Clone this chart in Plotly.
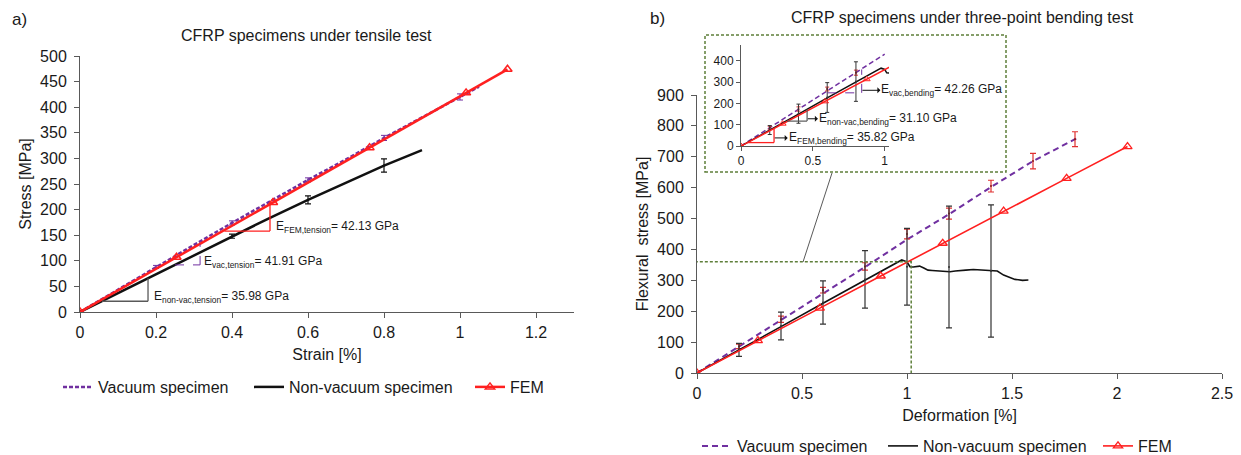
import plotly.graph_objects as go

# ---------------- data: (a) tensile test ----------------
ten_vac_x = [0, 0.1, 0.2, 0.3, 0.4, 0.5, 0.6, 0.7, 0.8, 0.9, 1.0, 1.05]
ten_vac_y = [0, 44, 88, 131, 174, 216, 258, 298, 340, 380, 420, 440]
ten_vac_err_x = [0.2, 0.4, 0.6, 0.8, 1.0]
ten_vac_err_y = [88, 174, 258, 340, 420]
ten_vac_err = [3, 4, 4, 5, 6]

ten_nonvac_x = [0, 0.1, 0.2, 0.3, 0.4, 0.5, 0.6, 0.7, 0.8, 0.9]
ten_nonvac_y = [0, 37, 74, 111, 148, 184, 219, 253, 286, 316]
ten_nonvac_err_x = [0.4, 0.6, 0.8]
ten_nonvac_err_y = [148, 219, 286]
ten_nonvac_err = [4, 8, 13]

ten_fem_x = [0, 0.254, 0.508, 0.762, 1.016, 1.125]
ten_fem_y = [0, 107, 214, 321, 428, 474]

# ---------------- data: (b) three-point bending ----------------
bend_vac_x = [0, 0.2, 0.4, 0.6, 0.8, 1.0, 1.2, 1.4, 1.6, 1.8, 1.82]
bend_vac_y = [0, 86, 172, 258, 343, 432, 514, 602, 686, 757, 764]
bend_vac_err_x = [0.2, 0.4, 0.6, 0.8, 1.0, 1.2, 1.4, 1.6, 1.8]
bend_vac_err_y = [86, 174, 268, 345, 450, 516, 605, 686, 757]
bend_vac_err = [7, 10, 9, 12, 16, 18, 19, 25, 24]

bend_nonvac_x = [0, 0.2, 0.4, 0.6, 0.8, 0.975, 1.0, 1.014, 1.03, 1.06, 1.08, 1.1,
                 1.12, 1.15, 1.18, 1.205, 1.23, 1.26, 1.28, 1.316, 1.34, 1.36,
                 1.38, 1.41, 1.43, 1.46, 1.48, 1.5, 1.514, 1.53, 1.55, 1.578]
bend_nonvac_y = [0, 74, 150, 226, 302, 366, 360, 344, 343, 346, 340, 333,
                 332, 330, 330, 328, 330, 333, 333, 335, 334, 335,
                 334, 333, 330, 317, 312, 307, 303, 302, 300, 301]
bend_nonvac_err_x = [0.2, 0.4, 0.6, 0.8, 1.0, 1.2, 1.4]
bend_nonvac_err_y = [75, 152, 228, 303, 344, 343, 330]
bend_nonvac_err = [21, 45, 70, 93, 124, 197, 214]

bend_fem_x = [0, 0.29, 0.585, 0.875, 1.17, 1.46, 1.76, 2.05]
bend_fem_y = [0, 105, 210, 314, 420, 524, 630, 733]

# ---------------- styling ----------------
W, H = 1241, 455
PURPLE = "#7030A0"
RED = "#FF2020"
BLACK = "#111111"
GREY = "#595959"
GREEN = "#5E7F3A"
TXT = "#1a1a1a"
FONT = "Liberation Sans, Arial, sans-serif"


def px(xp):
    return xp / W


def py(yp):
    return 1 - yp / H


fig = go.Figure()

# ----- (a) traces -----
fig.add_trace(go.Scatter(x=ten_vac_x, y=ten_vac_y, mode="lines", name="Vacuum specimen",
                         line=dict(color=PURPLE, width=2.5, dash="4px,2px"),
                         xaxis="x", yaxis="y", legend="legend"))
fig.add_trace(go.Scatter(x=ten_vac_err_x, y=ten_vac_err_y, mode="markers",
                         marker=dict(size=2, color=PURPLE), showlegend=False,
                         error_y=dict(type="data", array=ten_vac_err, color=PURPLE, thickness=1, width=3),
                         xaxis="x", yaxis="y"))
fig.add_trace(go.Scatter(x=ten_nonvac_x, y=ten_nonvac_y, mode="lines", name="Non-vacuum specimen",
                         line=dict(color=BLACK, width=2.5),
                         xaxis="x", yaxis="y", legend="legend2"))
fig.add_trace(go.Scatter(x=ten_nonvac_err_x, y=ten_nonvac_err_y, mode="markers",
                         marker=dict(size=2, color=BLACK), showlegend=False,
                         error_y=dict(type="data", array=ten_nonvac_err, color=BLACK, thickness=1.2, width=3),
                         xaxis="x", yaxis="y"))
fig.add_trace(go.Scatter(x=ten_fem_x, y=ten_fem_y, mode="lines+markers", name="FEM",
                         line=dict(color=RED, width=2.5),
                         marker=dict(symbol="triangle-up-open", size=8, color=RED, line=dict(width=1.5)),
                         xaxis="x", yaxis="y", legend="legend3"))

# ----- (b) traces (main) -----
fig.add_trace(go.Scatter(x=bend_vac_x, y=bend_vac_y, mode="lines", name="Vacuum specimen",
                         line=dict(color=PURPLE, width=2, dash="6px,4px"),
                         xaxis="x2", yaxis="y2", legend="legend4"))
fig.add_trace(go.Scatter(x=bend_vac_err_x, y=bend_vac_err_y, mode="markers",
                         marker=dict(size=2, color="#8a1a1a"), showlegend=False,
                         error_y=dict(type="data", array=bend_vac_err, color="#E03030", thickness=1.2, width=3),
                         xaxis="x2", yaxis="y2"))
fig.add_trace(go.Scatter(x=bend_nonvac_x, y=bend_nonvac_y, mode="lines", name="Non-vacuum specimen",
                         line=dict(color=BLACK, width=1.6),
                         xaxis="x2", yaxis="y2", legend="legend5"))
fig.add_trace(go.Scatter(x=bend_nonvac_err_x, y=bend_nonvac_err_y, mode="markers",
                         marker=dict(size=2, color="#333333"), showlegend=False,
                         error_y=dict(type="data", array=bend_nonvac_err, color="#333333", thickness=1.2, width=3),
                         xaxis="x2", yaxis="y2"))
fig.add_trace(go.Scatter(x=bend_fem_x, y=bend_fem_y, mode="lines+markers", name="FEM",
                         line=dict(color=RED, width=1.6),
                         marker=dict(symbol="triangle-up-open", size=8, color=RED, line=dict(width=1.3)),
                         xaxis="x2", yaxis="y2", legend="legend6"))

# ----- (b) inset traces -----
inset_vac_x = [v for v in bend_vac_x if v <= 1.0]
inset_vac_y = bend_vac_y[:len(inset_vac_x)]
fig.add_trace(go.Scatter(x=inset_vac_x, y=inset_vac_y, mode="lines", showlegend=False,
                         line=dict(color=PURPLE, width=1.5, dash="5px,3px"), xaxis="x3", yaxis="y3"))
in_err_n = len([v for v in bend_vac_err_x if v <= 0.8])
fig.add_trace(go.Scatter(x=bend_vac_err_x[:in_err_n], y=bend_vac_err_y[:in_err_n], mode="markers",
                         marker=dict(size=2, color="#8a1a1a"), showlegend=False,
                         error_y=dict(type="data", array=bend_vac_err[:in_err_n], color="#E03030", thickness=1, width=2),
                         xaxis="x3", yaxis="y3"))
fig.add_trace(go.Scatter(x=bend_nonvac_x, y=bend_nonvac_y, mode="lines", showlegend=False,
                         line=dict(color=BLACK, width=1.5), xaxis="x3", yaxis="y3"))
in_nerr_n = len([v for v in bend_nonvac_err_x if v <= 0.8])
fig.add_trace(go.Scatter(x=bend_nonvac_err_x[:in_nerr_n], y=bend_nonvac_err_y[:in_nerr_n], mode="markers",
                         marker=dict(size=2, color="#333333"), showlegend=False,
                         error_y=dict(type="data", array=bend_nonvac_err[:in_nerr_n], color="#333333", thickness=1, width=2),
                         xaxis="x3", yaxis="y3"))
fig.add_trace(go.Scatter(x=bend_fem_x, y=bend_fem_y, mode="lines+markers", showlegend=False,
                         line=dict(color=RED, width=1.5),
                         marker=dict(symbol="triangle-up-open", size=6, color=RED, line=dict(width=1)),
                         xaxis="x3", yaxis="y3"))


def axis_style(**kw):
    d = dict(showline=True, linecolor=GREY, linewidth=1, ticks="outside", ticklen=5,
             tickcolor=GREY, tickwidth=1, showgrid=False, zeroline=False, automargin=False,
             tickfont=dict(size=16, color=TXT, family=FONT), title_font=dict(size=16, color=TXT, family=FONT))
    d.update(kw)
    return d


def leg(xp, yp):
    return dict(orientation="h", x=px(xp), y=py(yp), xanchor="left", yanchor="middle",
                font=dict(size=16, color=TXT, family=FONT), bgcolor="rgba(0,0,0,0)", itemwidth=30)


fig.update_layout(
    width=W, height=H, margin=dict(l=0, r=0, t=0, b=0, autoexpand=False),
    paper_bgcolor="white", plot_bgcolor="white",
    font=dict(family=FONT, color=TXT),
    xaxis=axis_style(domain=[px(80), px(574)], range=[0, 1.3], tick0=0, dtick=0.2, anchor="y",
                     ticklabelstandoff=1, title=dict(text="Strain [%]", standoff=8)),
    yaxis=axis_style(domain=[py(312), py(56)], range=[0, 500], tick0=0, dtick=50, anchor="x",
                     ticklabelstandoff=4, title=dict(text="Stress [MPa]", standoff=4)),
    xaxis2=axis_style(domain=[px(697), px(1222)], range=[0, 2.5], tick0=0, dtick=0.5, anchor="y2",
                      ticklabelstandoff=1, title=dict(text="Deformation [%]", standoff=8)),
    yaxis2=axis_style(domain=[py(373), py(95)], range=[0, 900], tick0=0, dtick=100, anchor="x2",
                      ticklabelstandoff=4, title=dict(text="Flexural\u00a0 stress [MPa]", standoff=4)),
    xaxis3=axis_style(domain=[px(741), px(889)], range=[0, 1.03], tickvals=[0, 0.5, 1], anchor="y3",
                      ticklen=4, tickfont=dict(size=12, color=TXT, family=FONT)),
    yaxis3=axis_style(domain=[py(146), py(45)], range=[0, 475], tickvals=[0, 100, 200, 300, 400], anchor="x3",
                      ticklen=4, tickfont=dict(size=12, color=TXT, family=FONT)),
    legend=leg(58, 387),
    legend2=leg(249, 387),
    legend3=leg(470, 387),
    legend4=leg(697, 446),
    legend5=leg(883, 446),
    legend6=leg(1098, 446),
)

ann = []
# panel labels and titles
ann.append(dict(text="a)", x=px(10), y=py(20), xref="paper", yref="paper", xanchor="left", yanchor="middle",
                showarrow=False, font=dict(size=17, color=TXT)))
ann.append(dict(text="CFRP specimens under tensile test", x=px(306), y=py(36), xref="paper", yref="paper",
                xanchor="center", yanchor="middle", showarrow=False, font=dict(size=16, color=TXT)))
ann.append(dict(text="b)", x=px(648), y=py(19), xref="paper", yref="paper", xanchor="left", yanchor="middle",
                showarrow=False, font=dict(size=17, color=TXT)))
ann.append(dict(text="CFRP specimens under three-point bending test", x=px(962), y=py(18), xref="paper",
                yref="paper", xanchor="center", yanchor="middle", showarrow=False, font=dict(size=16, color=TXT)))

# (a) slope labels
ann.append(dict(text="E<sub>non-vac,tension</sub>= 35.98 GPa", x=0.19, y=29, xref="x", yref="y",
                xanchor="left", yanchor="middle", showarrow=False, font=dict(size=12, color=TXT)))
ann.append(dict(text="E<sub>vac,tension</sub>= 41.91 GPa", x=0.322, y=98, xref="x", yref="y",
                xanchor="left", yanchor="middle", showarrow=False, font=dict(size=12, color=TXT)))
ann.append(dict(text="E<sub>FEM,tension</sub>= 42.13 GPa", x=0.51, y=166, xref="x", yref="y",
                xanchor="left", yanchor="middle", showarrow=False, font=dict(size=12, color=TXT)))

# (b) inset slope labels with arrows pointing at the text
for (label, x_tip, x_txt, yy) in [
    ("E<sub>FEM,bending</sub>= 35.82 GPa", 0.235, 0.325, 38),
    ("E<sub>non-vac,bending</sub>= 31.10 GPa", 0.465, 0.535, 128),
    ("E<sub>vac,bending</sub>= 42.26 GPa", 0.845, 0.97, 262),
]:
    ann.append(dict(text=label, x=x_tip, y=yy, ax=x_txt, ay=yy, xref="x3", yref="y3", axref="x3", ayref="y3",
                    xanchor="left", yanchor="middle", showarrow=True, arrowside="start", arrowhead=2,
                    arrowsize=1, arrowwidth=1, arrowcolor=BLACK, borderpad=0,
                    font=dict(size=12, color=TXT)))
fig.update_layout(annotations=ann)

shapes = []
# (a) slope triangles
shapes += [
    dict(type="line", xref="x", yref="y", x0=0.058, y0=21, x1=0.179, y1=21, line=dict(color=GREY, width=1.3)),
    dict(type="line", xref="x", yref="y", x0=0.179, y0=21, x1=0.179, y1=66, line=dict(color=GREY, width=1.3)),
    dict(type="line", xref="x", yref="y", x0=0.25, y0=92, x1=0.316, y1=92, line=dict(color=PURPLE, width=1, dash="dash")),
    dict(type="line", xref="x", yref="y", x0=0.316, y0=92, x1=0.316, y1=132, line=dict(color=PURPLE, width=1, dash="dash")),
    dict(type="line", xref="x", yref="y", x0=0.38, y0=158, x1=0.5, y1=158, line=dict(color=RED, width=1.3)),
    dict(type="line", xref="x", yref="y", x0=0.5, y0=158, x1=0.5, y1=211, line=dict(color=RED, width=1.3)),
]
# (b) inset slope triangles
shapes += [
    dict(type="line", xref="x3", yref="y3", x0=0.045, y0=16, x1=0.23, y1=16, line=dict(color=RED, width=1.3)),
    dict(type="line", xref="x3", yref="y3", x0=0.23, y0=16, x1=0.23, y1=82, line=dict(color=RED, width=1.3)),
    dict(type="line", xref="x3", yref="y3", x0=0.32, y0=117, x1=0.46, y1=117, line=dict(color=GREY, width=1.2)),
    dict(type="line", xref="x3", yref="y3", x0=0.46, y0=117, x1=0.46, y1=172, line=dict(color=GREY, width=1.2)),
    dict(type="line", xref="x3", yref="y3", x0=0.6, y0=250, x1=0.84, y1=250, line=dict(color=PURPLE, width=1, dash="dash")),
    dict(type="line", xref="x3", yref="y3", x0=0.84, y0=250, x1=0.84, y1=360, line=dict(color=PURPLE, width=1, dash="dash")),
]
# (b) zoom rectangle, inset frame and connector
shapes += [
    dict(type="rect", xref="x2", yref="y2", x0=-0.015, y0=-10, x1=1.02, y1=360,
         line=dict(color=GREEN, width=1.5, dash="3px,2px")),
    dict(type="rect", xref="paper", yref="paper", x0=px(705), y0=py(172), x1=px(1006), y1=py(35),
         line=dict(color=GREEN, width=1.5, dash="3px,2px")),
    dict(type="line", xref="paper", yref="paper", x0=px(832), y0=py(173), x1=px(803), y1=py(262),
         line=dict(color=GREY, width=1)),
]
fig.update_layout(shapes=shapes)

fig.write_html("out.html")
